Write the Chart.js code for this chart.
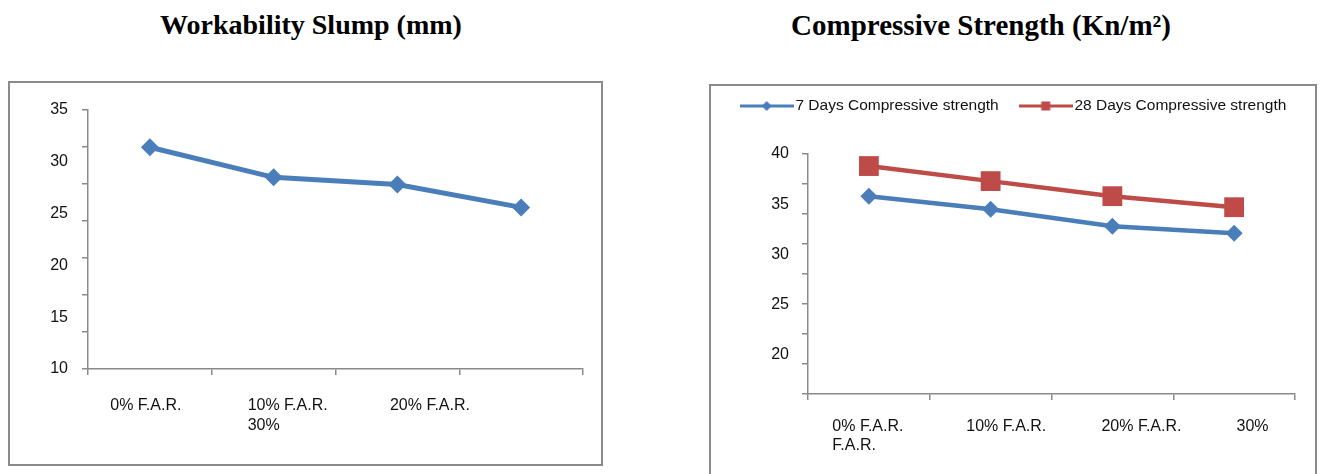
<!DOCTYPE html>
<html><head><meta charset="utf-8">
<script src="https://cdn.jsdelivr.net/npm/chart.js@4.4.1/dist/chart.umd.min.js"></script>
<style>
html,body{margin:0;padding:0;background:#fff;width:1322px;height:474px;overflow:hidden;position:relative;}
.title{position:absolute;font-family:"Liberation Serif","Times New Roman",serif;font-weight:bold;font-size:28px;line-height:32px;color:#000;white-space:nowrap;transform:translateX(-50%);}
.box{position:absolute;border:2px solid #8a8a8a;box-sizing:border-box;background:#fff;}
canvas{position:absolute;left:0;top:0;}
</style></head><body>
<div class="title" style="left:311px;top:9px">Workability Slump (mm)</div>
<div class="title" style="left:981px;top:9px;font-size:29px">Compressive Strength (Kn/m²)</div>
<div class="box" style="left:8px;top:81px;width:595px;height:385px"><canvas id="c1" width="591" height="381" style="width:591px;height:381px"></canvas></div>
<div class="box" style="left:709px;top:84px;width:608px;height:400px"><canvas id="c2" width="604" height="388" style="width:604px;height:388px"></canvas></div>
<script>
// ---- data ----
const categories = ['0% F.A.R.', '10% F.A.R.', '20% F.A.R.', '30% F.A.R.'];
const slump = [31.4, 28.5, 27.8, 25.6];
const strength7 = [35.8, 34.5, 32.8, 32.1];
const strength28 = [38.8, 37.3, 35.8, 34.7];
const seriesNames = ['7 Days Compressive strength', '28 Days Compressive strength'];
const slumpTickLabels = ['0% F.A.R.', ['10% F.A.R.', '30%'], '20% F.A.R.'];
const strengthTickLabels = [['0% F.A.R.', 'F.A.R.'], '10% F.A.R.', '20% F.A.R.', '30%'];
const slumpYLabels = [10, 35];
const strengthYLabels = [16.1, 40];

// ---- layout constants ----
const slumpLabelAnchors = [0.18, 1.29, 2.44];
const strengthLabelAnchors = [0.2, 1.3, 2.41, 3.52];

const BLUE = '#4a7ebb', RED = '#be4b48', AXIS = '#8a8a8a', TEXT = '#111';
Chart.defaults.font.family = '"Liberation Sans", Arial, sans-serif';
Chart.defaults.font.size = 16;
Chart.defaults.color = TEXT;

// adds empty space below the legend row
const legendSpacer = {
  id: 'legendSpacer',
  beforeLayout(chart, args, opts) {
    const lg = chart.legend;
    if (lg && !lg.$spaced) {
      const fit = lg.fit;
      lg.fit = function () { fit.call(this); this.height += opts.extra || 0; };
      lg.$spaced = true;
    }
  }
};

function legendIcon(color, shape) {
  const c = document.createElement('canvas');
  c.width = 54; c.height = 12;
  const g = c.getContext('2d');
  g.strokeStyle = color; g.lineWidth = 3;
  g.beginPath(); g.moveTo(0, 6); g.lineTo(54, 6); g.stroke();
  g.fillStyle = color;
  if (shape === 'diamond') { g.beginPath(); g.moveTo(27, 1); g.lineTo(32, 6); g.lineTo(27, 11); g.lineTo(22, 6); g.closePath(); g.fill(); }
  else { g.fillRect(22.5, 1.5, 9, 9); }
  return c;
}

function tickAxis(min, max) {
  return { type: 'linear', position: 'left', weight: 0, min: min, max: max,
    grid: { drawOnChartArea: false, tickLength: 6, color: AXIS, lineWidth: 1.5 },
    border: { color: AXIS, width: 1.5 },
    ticks: { display: false, stepSize: 5 },
    afterFit: s => { s.width = 6; } };
}
function catAxis(padRight) {
  return { type: 'category', position: 'bottom', weight: 0, offset: true,
    grid: { offset: true, drawOnChartArea: false, tickLength: 6, color: AXIS, lineWidth: 1.5 },
    border: { color: AXIS, width: 1.5 },
    ticks: { display: false },
    afterFit: s => { s.paddingRight = padRight; } };
}
function labelAxisX(labels, anchors, pad, lh, h) {
  return { type: 'linear', position: 'bottom', weight: 1, min: 0, max: 4,
    grid: { display: false, drawTicks: false }, border: { display: false },
    ticks: { autoSkip: false, maxRotation: 0, align: 'start', padding: pad, font: { size: 16, lineHeight: lh },
      callback: (v, i) => labels[i] },
    afterBuildTicks: s => { s.ticks = anchors.map(v => ({ value: v })); },
    afterFit: s => { s.height = h; s.paddingLeft = 0; s.paddingRight = 0; } };
}

new Chart(document.getElementById('c1'), {
  type: 'line',
  data: { labels: categories, datasets: [{
    label: 'Workability Slump (mm)', data: slump, xAxisID: 'x', yAxisID: 'y',
    borderColor: BLUE, backgroundColor: BLUE, borderWidth: 5, tension: 0,
    pointStyle: 'rectRot', pointRadius: 9, pointBorderWidth: 0, pointBackgroundColor: BLUE }] },
  options: {
    responsive: false, animation: false, events: [],
    layout: { padding: { left: 0, right: 0, top: 27, bottom: 28 } },
    plugins: { legend: { display: false }, tooltip: { enabled: false } },
    scales: {
      x: catAxis(18),
      xl: labelAxisX(slumpTickLabels, slumpLabelAnchors, 21, 1.25, 61),
      y: { type: 'linear', position: 'left', weight: 1, min: slumpYLabels[0], max: slumpYLabels[1],
        grid: { display: false, drawTicks: false }, border: { display: false },
        ticks: { stepSize: 5, padding: 14 }, afterFit: s => { s.width = 72; } },
      yt: tickAxis(0, 35)
    }
  }
});

const icons = [legendIcon(BLUE, 'diamond'), legendIcon(RED, 'square')];
new Chart(document.getElementById('c2'), {
  type: 'line',
  plugins: [legendSpacer],
  data: { labels: categories, datasets: [
    { label: seriesNames[0], data: strength7, xAxisID: 'x', yAxisID: 'y',
      borderColor: BLUE, backgroundColor: BLUE, borderWidth: 4.5, tension: 0,
      pointStyle: 'rectRot', pointRadius: 8.5, pointBorderWidth: 0, pointBackgroundColor: BLUE },
    { label: seriesNames[1], data: strength28, xAxisID: 'x', yAxisID: 'y',
      borderColor: RED, backgroundColor: RED, borderWidth: 4.5, tension: 0,
      pointStyle: 'rect', pointRadius: 14, pointBorderWidth: 0, pointBackgroundColor: RED }
  ] },
  options: {
    responsive: false, animation: false, events: [],
    layout: { padding: { left: 6, right: 0, top: -13.75, bottom: 18 } },
    plugins: {
      tooltip: { enabled: false },
      legendSpacer: { extra: 30.25 },
      legend: { display: true, position: 'top',
        labels: { usePointStyle: true, pointStyleWidth: 42, padding: 26, font: { size: 15.5 }, color: TEXT,
          generateLabels: ch => ch.data.datasets.map((ds, i) => ({
            text: ds.label, pointStyle: icons[i], fillStyle: ds.borderColor, strokeStyle: ds.borderColor,
            lineWidth: 0, hidden: false, datasetIndex: i, fontColor: TEXT })) } }
    },
    scales: {
      x: catAxis(20),
      xl: labelAxisX(strengthTickLabels, strengthLabelAnchors, 17.5, 1.19, 56),
      y: { type: 'linear', position: 'left', weight: 1, min: strengthYLabels[0], max: strengthYLabels[1],
        grid: { display: false, drawTicks: false }, border: { display: false },
        ticks: { stepSize: 5, padding: 13, includeBounds: false },
        afterFit: s => { s.width = 85; } },
      yt: tickAxis(0, 40)
    }
  }
});
</script>
</body></html>
